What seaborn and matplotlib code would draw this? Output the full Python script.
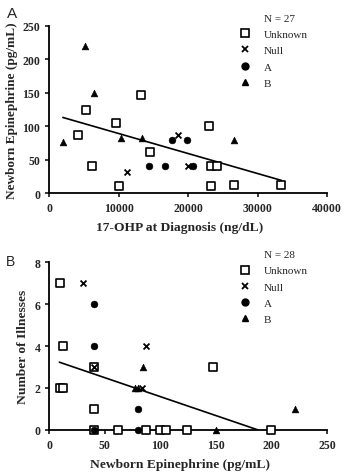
import matplotlib
matplotlib.use("Agg")
import matplotlib.pyplot as plt
from matplotlib.lines import Line2D
import seaborn as sns

# Panel A: 17-OHP at diagnosis vs newborn epinephrine
a_unknown_x = [5300, 4100, 6150, 9550, 10050, 13250, 14550, 23050, 23300, 24100, 23300, 26550, 33450]
a_unknown_y = [124, 87, 40, 105, 10, 147, 62, 100, 40, 40, 10, 12, 12]
a_null_x = [11150, 18600, 20000]
a_null_y = [31, 87, 40]
a_gA_x = [14350, 16650, 17700, 19850, 20750]
a_gA_y = [40, 40, 80, 80, 40]
a_gB_x = [1950, 5150, 6450, 10350, 13400, 26650]
a_gB_y = [77, 220, 149, 83, 83, 80]
a_fit_x = [1950, 33450]
a_fit_y = [113, 19]

# Panel B: newborn epinephrine vs number of illnesses
b_unknown_x = [10, 12, 10, 12, 40, 40, 40, 62, 87, 100, 105, 124, 147, 200]
b_unknown_y = [7, 4, 2, 2, 3, 1, 0, 0, 0, 0, 0, 0, 3, 0]
b_null_x = [30, 87, 40, 83]
b_null_y = [7, 4, 3, 2]
b_gA_x = [40, 40, 80, 80, 40]
b_gA_y = [6, 4, 1, 0, 0]
b_gB_x = [77, 80, 84, 150, 221]
b_gB_y = [2, 2, 3, 0, 1]
b_fit_x = [9, 188]
b_fit_y = [3.23, 0]

group_names = ["Unknown", "Null", "A", "B"]

sns.set_style("ticks")
plt.rcParams["font.family"] = ["Liberation Serif", "DejaVu Serif"]

fig = plt.figure(figsize=(3.55, 4.77), dpi=100)
ax1 = fig.add_axes([0.139, 0.593, 0.782, 0.351])
ax2 = fig.add_axes([0.139, 0.0965, 0.782, 0.352])

def draw_panel(ax, groups, fit_x, fit_y, n_text):
    ux, uy, nx, ny, ax_, ay_, bx, by = groups
    kw = dict(ax=ax, clip_on=False, zorder=5, legend=False)
    sns.scatterplot(x=ux, y=uy, marker="s", s=30, facecolor="white",
                    edgecolor="black", linewidth=1.2, **kw)
    sns.scatterplot(x=nx, y=ny, marker="x", s=18, color="black", linewidth=1.3, **kw)
    sns.scatterplot(x=ax_, y=ay_, marker="o", s=24, color="black", edgecolor="black", **kw)
    sns.scatterplot(x=bx, y=by, marker="^", s=24, color="black", edgecolor="black", **kw)
    sns.lineplot(x=fit_x, y=fit_y, color="black", linewidth=1.2, ax=ax)

    handles = [
        Line2D([], [], linestyle="none"),
        Line2D([], [], linestyle="none", marker="s", markersize=5.5, markerfacecolor="white",
               markeredgecolor="black", markeredgewidth=1.2),
        Line2D([], [], linestyle="none", marker="x", markersize=4.5, color="black", markeredgewidth=1.3),
        Line2D([], [], linestyle="none", marker="o", markersize=5, color="black"),
        Line2D([], [], linestyle="none", marker="^", markersize=5, color="black"),
    ]
    ax.legend(handles, [n_text] + group_names, loc="upper left",
              bbox_to_anchor=(0.685, 1.075), frameon=False, fontsize=8,
              handlelength=1.0, handletextpad=1.2, labelspacing=0.58,
              borderpad=0, borderaxespad=0)

    for s in ["top", "right"]:
        ax.spines[s].set_visible(False)
    for s in ["left", "bottom"]:
        ax.spines[s].set_linewidth(1.3)
        ax.spines[s].set_color("black")
    ax.tick_params(width=1.1, length=3, labelsize=8.5, color="black", direction="out")

draw_panel(ax1, (a_unknown_x, a_unknown_y, a_null_x, a_null_y, a_gA_x, a_gA_y, a_gB_x, a_gB_y),
           a_fit_x, a_fit_y, "N = 27")
ax1.set_xlim(0, 40000)
ax1.set_ylim(0, 250)
ax1.set_xticks([0, 10000, 20000, 30000, 40000])
ax1.set_yticks([0, 50, 100, 150, 200, 250])
ax1.set_xlabel("17-OHP at Diagnosis (ng/dL)", fontsize=9.7, fontweight="bold", labelpad=6)
ax1.set_ylabel("Newborn Epinephrine (pg/mL)", fontsize=9.5, fontweight="bold", labelpad=3)
ax1.xaxis.set_label_coords(0.47, -0.165)

draw_panel(ax2, (b_unknown_x, b_unknown_y, b_null_x, b_null_y, b_gA_x, b_gA_y, b_gB_x, b_gB_y),
           b_fit_x, b_fit_y, "N = 28")
ax2.set_xlim(0, 250)
ax2.set_ylim(0, 8)
ax2.set_xticks([0, 50, 100, 150, 200, 250])
ax2.set_yticks([0, 2, 4, 6, 8])
ax2.set_xlabel("Newborn Epinephrine (pg/mL)", fontsize=9.7, fontweight="bold", labelpad=6)
ax2.set_ylabel("Number of Illnesses", fontsize=9.7, fontweight="bold", labelpad=4)
ax2.xaxis.set_label_coords(0.47, -0.165)

for a in (ax1, ax2):
    for lab in a.get_xticklabels() + a.get_yticklabels():
        lab.set_fontweight("bold")

fig.text(0.02, 0.985, "A", fontsize=11, family="Liberation Sans", va="top")
fig.text(0.017, 0.465, "B", fontsize=10, family="Liberation Sans", va="top")

fig.savefig("out.png", dpi=100)
